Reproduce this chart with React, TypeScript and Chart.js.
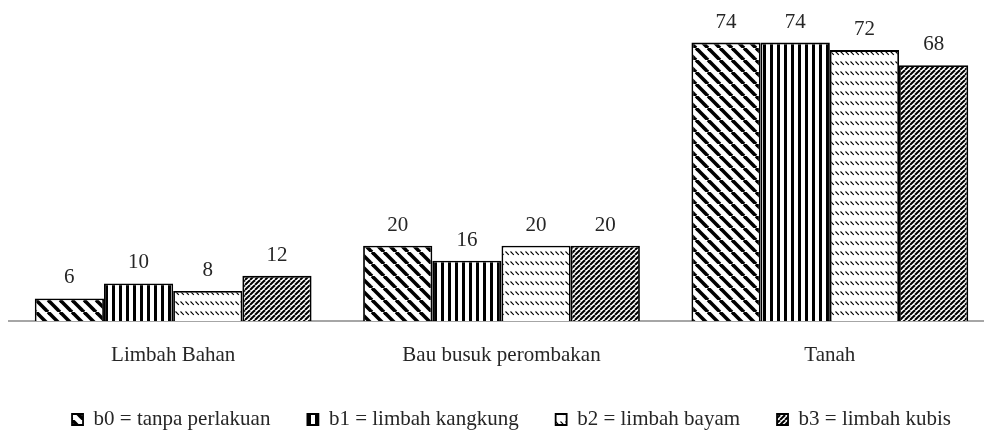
import React, { useEffect, useRef } from 'react';
import { Chart, registerables } from 'chart.js';

Chart.register(...registerables);

const categories = ['Limbah Bahan', 'Bau busuk perombakan', 'Tanah'];
const seriesLabels = ['b0 = tanpa perlakuan', 'b1 = limbah kangkung', 'b2 = limbah bayam', 'b3 = limbah kubis'];
const b0Values = [6, 20, 74];
const b1Values = [10, 16, 74];
const b2Values = [8, 20, 72];
const b3Values = [12, 20, 68];
const yMin = 0;
const yMax = 80;

const FONT = 'Liberation Serif';

function makePattern(kind: string): CanvasPattern | string {
  const c = document.createElement('canvas');
  const ctx = c.getContext('2d');
  if (!ctx) return '#fff';
  if (kind === 'wideDown') {
    c.width = 12; c.height = 12;
    ctx.fillStyle = '#fff'; ctx.fillRect(0, 0, 12, 12);
    ctx.strokeStyle = '#000'; ctx.lineWidth = 3.6;
    for (const k of [-12, 0, 12]) { ctx.beginPath(); ctx.moveTo(k, 0); ctx.lineTo(k + 12, 12); ctx.stroke(); }
  } else if (kind === 'vertical') {
    c.width = 7; c.height = 4;
    ctx.fillStyle = '#fff'; ctx.fillRect(0, 0, 7, 4);
    ctx.fillStyle = '#000'; ctx.fillRect(0, 0, 3, 4);
  } else if (kind === 'dashedDown') {
    c.width = 5; c.height = 10;
    ctx.fillStyle = '#fff'; ctx.fillRect(0, 0, 5, 10);
    ctx.strokeStyle = '#000'; ctx.lineWidth = 1.1;
    ctx.beginPath(); ctx.moveTo(0.5, 1.5); ctx.lineTo(3.8, 4.8); ctx.stroke();
  } else {
    c.width = 5; c.height = 5;
    ctx.fillStyle = '#fff'; ctx.fillRect(0, 0, 5, 5);
    ctx.strokeStyle = '#000'; ctx.lineWidth = 2;
    for (const k of [-5, 0, 5]) { ctx.beginPath(); ctx.moveTo(k, 5); ctx.lineTo(k + 5, 0); ctx.stroke(); }
  }
  return ctx.createPattern(c, 'repeat') || '#fff';
}

const valueLabels = {
  id: 'valueLabels',
  afterDatasetsDraw(chart: any) {
    const ctx = chart.ctx;
    ctx.save();
    ctx.font = `21px "${FONT}"`;
    ctx.fillStyle = '#262626';
    ctx.textAlign = 'center';
    ctx.textBaseline = 'alphabetic';
    chart.data.datasets.forEach((ds: any, i: number) => {
      const meta = chart.getDatasetMeta(i);
      meta.data.forEach((bar: any, j: number) => {
        ctx.fillText(String(ds.data[j]), bar.x, bar.y - 15);
      });
    });
    ctx.restore();
  },
};

const legendShift = {
  id: 'legendShift',
  afterLayout(chart: any) {
    if (chart.legend) {
      chart.legend.left += 10;
      chart.legend.right += 10;
    }
  },
};

export default function App() {
  const ref = useRef<HTMLCanvasElement>(null);
  useEffect(() => {
    const canvas = ref.current;
    if (!canvas) return;
    const patterns = [
      makePattern('wideDown'),
      makePattern('vertical'),
      makePattern('dashedDown'),
      makePattern('darkUp'),
    ];
    const series = [b0Values, b1Values, b2Values, b3Values];
    const chart = new Chart(canvas, {
      type: 'bar',
      data: {
        labels: categories,
        datasets: series.map((s, i) => ({
          label: seriesLabels[i],
          data: s,
          backgroundColor: patterns[i] as any,
          borderColor: '#000',
          borderWidth: 1.8,
          borderSkipped: 'bottom',
          categoryPercentage: 0.843,
          barPercentage: 1,
        })),
      },
      options: {
        animation: false,
        responsive: false,
        devicePixelRatio: 1,
        layout: { padding: { left: 9, right: 10, top: 20, bottom: 0 } },
        scales: {
          x: {
            grid: { display: false },
            border: { display: true, color: '#a6a6a6', width: 2 },
            ticks: { font: { family: FONT, size: 21 }, color: '#262626', padding: 14 },
            afterFit(scale: any) { scale.height = 51; },
          },
          y: { display: false, min: yMin, max: yMax },
        },
        plugins: {
          legend: {
            position: 'bottom',
            labels: {
              font: { family: FONT, size: 21 },
              color: '#262626',
              boxWidth: 11,
              boxHeight: 11,
              padding: 37,
            },
          },
          tooltip: { enabled: false },
        },
      },
      plugins: [valueLabels, legendShift],
    });
    return () => chart.destroy();
  }, []);
  return (
    <div style={{ position: 'absolute', left: 0, top: 0, width: 984, height: 432, overflow: 'hidden', background: '#fff' }}>
      <canvas ref={ref} width={1004} height={440} />
    </div>
  );
}
